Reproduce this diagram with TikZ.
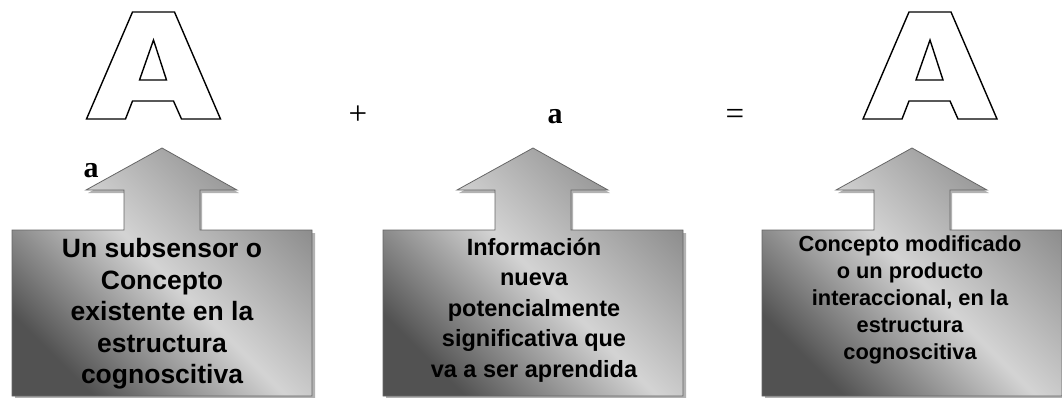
\documentclass[tikz,border=0pt]{standalone}
\usepackage{fontspec}
\setmainfont{Liberation Serif}
\setsansfont{Liberation Sans}
\usepackage{tikz}

\tikzset{
  letterA/.pic={
    % contorno de la letra
    \draw[line width=1.4pt, line join=miter, fill=white]
      (-67,119) -- (-21,12) -- (21,12) -- (67,119) -- (28,119) -- (20,101)
      -- (-21,101) -- (-28,119) -- cycle;
    \draw[line width=1.4pt] (0,40) -- (-14,80) -- (13,80) -- cycle;
  },
  upbox/.pic={
    % sombra
    \fill[black!30] (2,151) -- (77,193) -- (40,193) -- (40,233) -- (153,233)
      -- (153,399) -- (-147,399) -- (-147,233) -- (-36,233) -- (-36,193)
      -- (-74,193) -- cycle;
    % flecha con caja
    \shade[draw=black!60, line width=0.8pt, top color=black!68, bottom color=black!45,
      middle color=black!17, shading angle=135]
      (0,148) -- (75,190) -- (38,190) -- (38,230) -- (150,230) -- (150,396)
      -- (-150,396) -- (-150,230) -- (-38,230) -- (-38,190) -- (-76,190) -- cycle;
  },
  boxtext/.style={align=center, font=\sffamily\bfseries, text=black, inner sep=0pt},
  symb/.style={font=\fontsize{30}{30}\selectfont, inner sep=0pt}
}

\begin{document}
\begin{tikzpicture}[x=1pt, y=-1pt]
  \useasboundingbox (0,0) rectangle (1062,397);

  % letras A
  \pic at (153.5,0) {letterA};
  \pic at (930,0) {letterA};

  % signos
  \node[symb, font=\fontsize{33}{33}\selectfont, anchor=base] (plus) at (358,124) {+};
  \node[symb, font=\fontsize{30}{30}\selectfont\bfseries, anchor=base] (asmall) at (555,123) {a};
  \node[symb, font=\fontsize{33}{33}\selectfont, anchor=base] (equal) at (735,124) {=};

  % flechas
  \pic at (162,0) {upbox};
  \pic at (533,0) {upbox};
  \pic at (912,0) {upbox};

  \node[symb, font=\fontsize{30}{30}\selectfont\bfseries, anchor=base] (aleft) at (91,177) {a};

  % textos
  \node[boxtext, font=\sffamily\bfseries\fontsize{26.5}{31.5}\selectfont] (subsensor) at (162,314)
    {Un subsensor o\\Concepto\\existente en la\\estructura\\cognoscitiva};
  \node[boxtext, font=\sffamily\bfseries\fontsize{23.5}{30.5}\selectfont] (info) at (534,310)
    {Información\\nueva\\potencialmente\\significativa que\\va a ser aprendida};
  \node[boxtext, font=\sffamily\bfseries\fontsize{21.8}{26.8}\selectfont] (producto) at (910,300)
    {Concepto modificado\\o un producto\\interaccional, en la\\estructura\\cognoscitiva};
\end{tikzpicture}
\end{document}
